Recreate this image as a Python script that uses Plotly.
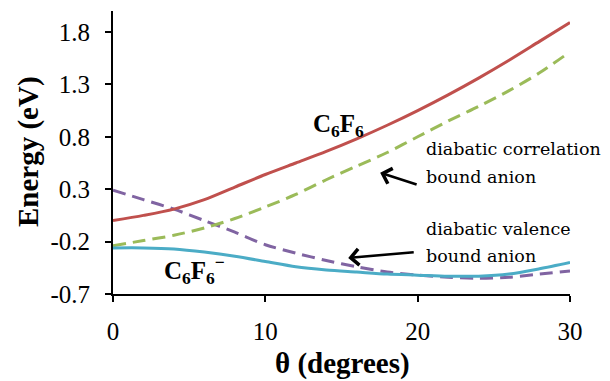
import plotly.graph_objects as go

# Torsion angle (degrees)
theta = [0, 2, 4, 6, 8, 10, 12, 14, 16, 18, 20, 22, 24, 26, 28, 30]

# Energies (eV)
neutral = [0.00, 0.05, 0.11, 0.20, 0.32, 0.44, 0.55, 0.66, 0.78, 0.91, 1.05, 1.20, 1.36, 1.53, 1.71, 1.89]
correlation = [-0.24, -0.19, -0.14, -0.07, 0.02, 0.13, 0.25, 0.39, 0.52, 0.65, 0.80, 0.95, 1.09, 1.24, 1.41, 1.61]
valence = [0.29, 0.20, 0.11, 0.00, -0.11, -0.23, -0.31, -0.38, -0.44, -0.49, -0.52, -0.54, -0.55, -0.54, -0.51, -0.48]
anion = [-0.26, -0.26, -0.27, -0.30, -0.34, -0.39, -0.44, -0.47, -0.49, -0.51, -0.52, -0.53, -0.53, -0.51, -0.46, -0.40]

x_ticks = [0, 10, 20, 30]
y_ticks = [-0.7, -0.2, 0.3, 0.8, 1.3, 1.8]

serif = "Liberation Serif, Times New Roman, serif"
dash = "13px,7px"

fig = go.Figure()
fig.add_trace(go.Scatter(x=theta, y=valence, mode="lines", line=dict(color="#8064A2", width=3, dash=dash, shape="spline", smoothing=0.8)))
fig.add_trace(go.Scatter(x=theta, y=correlation, mode="lines", line=dict(color="#9BBB59", width=3, dash=dash, shape="spline", smoothing=0.8)))
fig.add_trace(go.Scatter(x=theta, y=neutral, mode="lines", line=dict(color="#C0504D", width=3, shape="spline", smoothing=0.8)))
fig.add_trace(go.Scatter(x=theta, y=anion, mode="lines", line=dict(color="#4BACC6", width=3, shape="spline", smoothing=0.8)))

label_font = dict(family="DejaVu Serif, serif", size=17.5, color="black")


def label(x, y, text):
    return dict(x=x, y=y, text=text, showarrow=False, align="left",
                font=label_font, xanchor="left", yanchor="middle")


annotations = [
    dict(x=14.8, y=0.91, text="<b>C<sub>6</sub>F<sub>6</sub></b>", showarrow=False,
         font=dict(family=serif, size=25, color="black"), xanchor="center", yanchor="middle"),
    dict(x=5.38, y=-0.47, text="<b>C<sub>6</sub>F<sub>6</sub><sup>−</sup></b>", showarrow=False,
         font=dict(family=serif, size=25, color="black"), xanchor="center", yanchor="middle"),
    label(20.4, 0.68, "diabatic correlation"),
    label(20.4, 0.42, "bound anion"),
    label(20.4, -0.08, "diabatic valence"),
    label(20.4, -0.34, "bound anion"),
    # arrows
    dict(x=17.54, y=0.456, ax=20.03, ay=0.341, xref="x", yref="y", axref="x", ayref="y",
         text="", showarrow=True, arrowhead=4, arrowsize=1.2, arrowwidth=2.6, arrowcolor="black"),
    dict(x=15.44, y=-0.356, ax=19.84, ay=-0.30, xref="x", yref="y", axref="x", ayref="y",
         text="", showarrow=True, arrowhead=4, arrowsize=1.2, arrowwidth=2.6, arrowcolor="black"),
    # axis titles
    dict(x=28, y=152, xref="paper", yref="paper", text="<b>Energy (eV)</b>", showarrow=False,
         textangle=-90, xanchor="center", yanchor="middle",
         font=dict(family=serif, size=29, color="black")),
    dict(x=342, y=363, xref="paper", yref="paper", text="<b>θ (degrees)</b>", showarrow=False,
         xanchor="center", yanchor="middle",
         font=dict(family=serif, size=29, color="black")),
]

# convert pixel-placed axis titles to paper fractions
L, R, T, B = 113, 40, 11, 87
W, H = 610, 381
for a in annotations[-2:]:
    a["x"] = (a["x"] - L) / (W - L - R)
    a["y"] = (H - B - a["y"]) / (H - T - B)

fig.update_layout(
    width=W, height=H,
    margin=dict(l=L, r=R, t=T, b=B),
    paper_bgcolor="white", plot_bgcolor="white",
    showlegend=False,
    annotations=annotations,
    font=dict(family=serif, size=25, color="black"),
)
fig.update_xaxes(range=[0, 30], tickvals=x_ticks, ticktext=[str(v) for v in x_ticks],
                 tickfont=dict(family=serif, size=25, color="black"),
                 showgrid=False, zeroline=False, showline=True, linecolor="black", linewidth=2,
                 ticks="outside", ticklen=6, tickwidth=2, tickcolor="black", ticklabelstandoff=8)
fig.update_yaxes(range=[-0.7, 2.0], tickvals=y_ticks, ticktext=[f"{v:.1f}" for v in y_ticks],
                 tickfont=dict(family=serif, size=25, color="black"),
                 showgrid=False, zeroline=False, showline=True, linecolor="black", linewidth=2,
                 ticks="outside", ticklen=6, tickwidth=2, tickcolor="black", ticklabelstandoff=10)

fig.write_html("out.html")
